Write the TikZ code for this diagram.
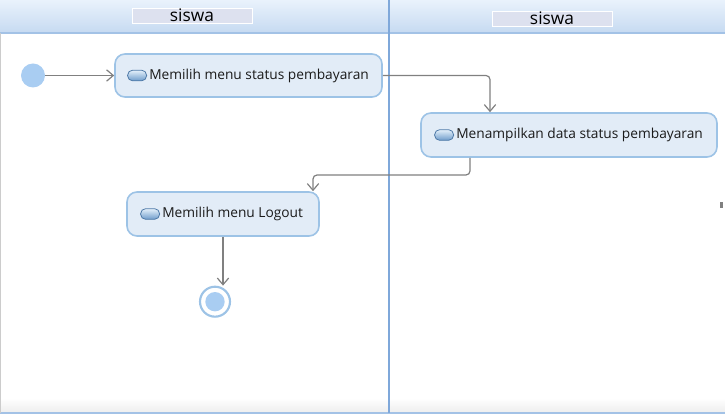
\documentclass[tikz,border=0pt]{standalone}
\usepackage{fontspec}
\setmainfont{Open Sans}
\usetikzlibrary{arrows.meta,shapes.geometric,calc}
\definecolor{hdtop}{HTML}{E9F2FC}
\definecolor{hdbot}{HTML}{C6DAF1}
\definecolor{hdline}{HTML}{A3C2E6}
\definecolor{lane}{HTML}{7FA8DA}
\definecolor{nodefill}{HTML}{E2ECF7}
\definecolor{nodeborder}{HTML}{9DC3E6}
\definecolor{dotfill}{HTML}{A9CDF2}
\definecolor{pillborder}{HTML}{4F7AA8}
\definecolor{pilltop}{HTML}{E4F0FB}
\definecolor{pillbot}{HTML}{6E9CCB}
\definecolor{arrcol}{HTML}{808080}
\definecolor{labfill}{HTML}{DDE1EF}
\definecolor{txt}{HTML}{1A1A1A}
\tikzset{
  act/.style={draw=nodeborder, line width=1.2pt, fill=nodefill, rounded corners=7.5pt, inner sep=0pt},
  pill/.style={draw=pillborder, line width=0.6pt, top color=pilltop, bottom color=pillbot, rounded corners=3.8pt, minimum width=14.25pt, minimum height=8pt, inner sep=0pt},
  lbl/.style={font=\fontsize{10.3}{12}\selectfont, text=txt, inner sep=0pt},
  arr/.style={draw=arrcol, line width=0.9pt, rounded corners=3pt, -{Straight Barb[length=5pt,width=8.5pt]}},
  lanehead/.style={draw=white, line width=0.6pt, fill=labfill, inner sep=0pt},
  lanetext/.style={font=\fontsize{13}{14}\selectfont, text=black, inner sep=0pt},
}
\begin{document}
\begin{tikzpicture}[x=0.75pt,y=-0.75pt]
\useasboundingbox (0,0) rectangle (725,416);
% swimlane frame
\shade[top color=hdtop, bottom color=hdbot] (0,0) rectangle (725,33);
\shade[top color=white, bottom color=black!7] (0,398) rectangle (725,413);
\draw[hdline, line width=1.5pt] (0,33) -- (725,33);
\draw[hdline, line width=1.5pt] (0,413.5) -- (725,413.5);
\draw[black!20, line width=0.6pt] (0.4,33) -- (0.4,413);
\draw[lane, line width=1pt] (389,0) -- (389,413);
\fill[black!50] (720,202) rectangle (723,208);
% lane headers
\node[lanehead, minimum width=90pt, minimum height=11.25pt] (h1) at (192,15.5) {};
\node[lanetext] (h1t) at (192,15.5) {siswa};
\node[lanehead, minimum width=90pt, minimum height=11.5pt] (h2) at (552,18.8) {};
\node[lanetext] (h2t) at (552,18.5) {siswa};
% start
\node[circle, fill=dotfill, minimum size=18pt, inner sep=0pt] (start) at (33,75.5) {};
% activities
\node[act, minimum width=200.25pt, minimum height=32.25pt] (n1) at (248.5,75.5) {};
\node[pill, anchor=west] (p1) at ([xshift=9.75pt]n1.west) {};
\node[lbl, anchor=west] (t1) at ([xshift=1.5pt]p1.east) {Memilih menu status pembayaran};
\node[act, minimum width=222pt, minimum height=33pt] (n2) at (569,135) {};
\node[pill, anchor=west] (p2) at ([xshift=10.5pt]n2.west) {};
\node[lbl, anchor=west] (t2) at ([xshift=1.5pt]p2.east) {Menampilkan data status pembayaran};
\node[act, minimum width=144pt, minimum height=33pt] (n3) at (223,214) {};
\node[pill, anchor=west] (p3) at ([xshift=10.5pt]n3.west) {};
\node[lbl, anchor=west] (t3) at ([xshift=1.5pt]p3.east) {Memilih menu Logout};
% end
\node[circle, draw=nodeborder, line width=1.6pt, fill=white, minimum size=22.5pt, inner sep=0pt] (endc) at (215,301.7) {};
\node[circle, fill=dotfill, minimum size=14.5pt, inner sep=0pt] (endin) at (endc) {};
% flows
\coordinate (bend) at (400,175);
\draw[arr] (start) -- (n1.west);
\draw[arr] (n1.east) -| ([xshift=-59.25pt]n2.north);
\draw[arr] ([xshift=-74.25pt]n2.south) |- (bend) -| ([xshift=67.5pt]n3.north);
\draw[arr] (n3.south) -- (n3.south |- endc.north);
\end{tikzpicture}
\end{document}
